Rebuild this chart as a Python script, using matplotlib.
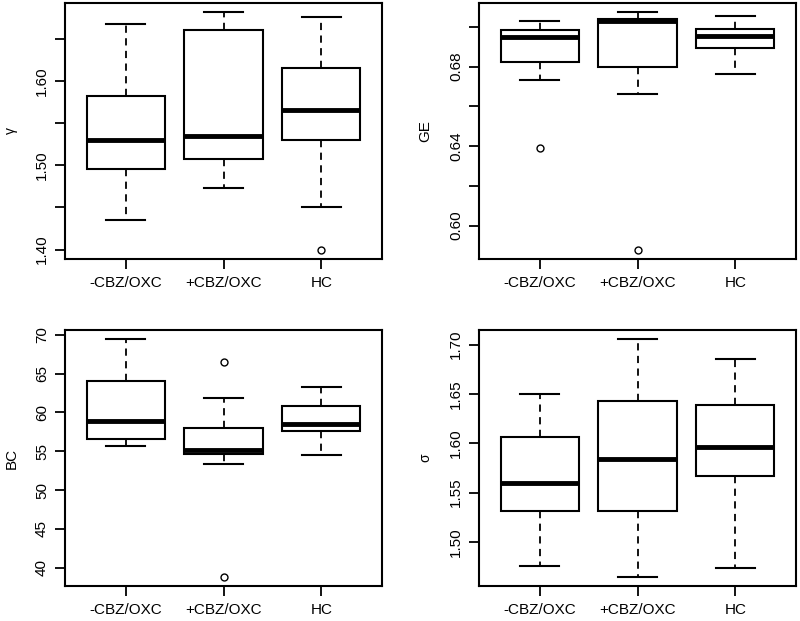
import matplotlib
matplotlib.use("Agg")
import matplotlib.pyplot as plt
import numpy as np

plt.rcParams['font.family'] = ['Liberation Sans', 'DejaVu Sans']

groups = ["-CBZ/OXC", "+CBZ/OXC", "HC"]

# gamma
gamma_whislo = [1.435, 1.473, 1.450]
gamma_q1 = [1.496, 1.507, 1.530]
gamma_med = [1.530, 1.534, 1.565]
gamma_q3 = [1.582, 1.660, 1.615]
gamma_whishi = [1.667, 1.681, 1.676]
gamma_fliers = [[], [], [1.400]]

# GE
ge_whislo = [0.6732, 0.666, 0.6763]
ge_q1 = [0.6825, 0.680, 0.6893]
ge_med = [0.6947, 0.7028, 0.6953]
ge_q3 = [0.6983, 0.704, 0.6988]
ge_whishi = [0.7028, 0.7072, 0.7053]
ge_fliers = [[0.639], [0.588], []]

# BC
bc_whislo = [55.7, 53.4, 54.5]
bc_q1 = [56.6, 54.7, 57.55]
bc_med = [58.9, 55.2, 58.5]
bc_q3 = [64.05, 57.95, 60.8]
bc_whishi = [69.4, 61.9, 63.25]
bc_fliers = [[], [66.45, 38.85], []]

# sigma
sig_whislo = [1.476, 1.465, 1.4737]
sig_q1 = [1.5313, 1.5313, 1.5667]
sig_med = [1.5602, 1.5845, 1.5966]
sig_q3 = [1.606, 1.643, 1.639]
sig_whishi = [1.6505, 1.7053, 1.686]
sig_fliers = [[], [], []]

panels = [
    dict(lo=gamma_whislo, q1=gamma_q1, med=gamma_med, q3=gamma_q3, hi=gamma_whishi, fl=gamma_fliers,
         label="γ", lsize=10, ticks=[1.40, 1.45, 1.50, 1.55, 1.60, 1.65],
         tlabels=["1.40", "", "1.50", "", "1.60", ""], rect=(65, 3, 382, 259)),
    dict(lo=ge_whislo, q1=ge_q1, med=ge_med, q3=ge_q3, hi=ge_whishi, fl=ge_fliers,
         label="GE", lsize=11, ticks=[0.60, 0.62, 0.64, 0.66, 0.68, 0.70],
         tlabels=["0.60", "", "0.64", "", "0.68", ""], rect=(479, 3, 796, 259)),
    dict(lo=bc_whislo, q1=bc_q1, med=bc_med, q3=bc_q3, hi=bc_whishi, fl=bc_fliers,
         label="BC", lsize=11, ticks=[40, 45, 50, 55, 60, 65, 70],
         tlabels=["40", "45", "50", "55", "60", "65", "70"], rect=(65, 330, 382, 586)),
    dict(lo=sig_whislo, q1=sig_q1, med=sig_med, q3=sig_q3, hi=sig_whishi, fl=sig_fliers,
         label="σ", lsize=10, ticks=[1.50, 1.55, 1.60, 1.65, 1.70],
         tlabels=["1.50", "1.55", "1.60", "1.65", "1.70"], rect=(479, 330, 796, 586)),
]

W, H = 800, 621
fig = plt.figure(figsize=(W / 100, H / 100), dpi=100)

for p in panels:
    x0, y0, x1, y1 = p["rect"]
    ax = fig.add_axes([x0 / W, 1 - y1 / H, (x1 - x0) / W, (y1 - y0) / H])
    stats = []
    for i in range(3):
        stats.append(dict(whislo=p["lo"][i], q1=p["q1"][i], med=p["med"][i], q3=p["q3"][i],
                          whishi=p["hi"][i], fliers=p["fl"][i]))
    ax.bxp(stats, positions=[1, 2, 3], widths=0.8, patch_artist=True,
           boxprops=dict(facecolor="white", edgecolor="black", linewidth=1.5),
           medianprops=dict(color="black", linewidth=3.5, solid_capstyle="butt"),
           whiskerprops=dict(color="black", linewidth=1.3, linestyle=(0, (4, 3))),
           capprops=dict(color="black", linewidth=1.5),
           flierprops=dict(marker="o", markersize=5, markerfacecolor="none",
                           markeredgecolor="black", markeredgewidth=1.0))
    allv = p["lo"] + p["hi"] + [v for f in p["fl"] for v in f]
    vmin, vmax = min(allv), max(allv)
    r = vmax - vmin
    ax.set_ylim(vmin - 0.04 * r, vmax + 0.04 * r)
    ax.set_xlim(0.38, 3.62)
    ax.set_xticks([1, 2, 3])
    ax.set_xticklabels(groups, fontsize=11)
    ax.set_yticks(p["ticks"])
    ax.set_yticklabels(p["tlabels"], fontsize=11, rotation=90, va="center")
    ax.tick_params(axis="both", direction="out", length=7.5, width=1.3, color="black", pad=4)
    ax.tick_params(axis="x", pad=5)
    for s in ax.spines.values():
        s.set_linewidth(1.5)
    ax.set_ylabel(p["label"], fontsize=p["lsize"], labelpad=12)

fig.savefig("out.png", dpi=100, facecolor="white")
